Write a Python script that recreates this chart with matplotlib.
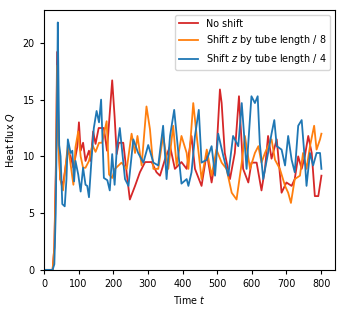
import matplotlib
matplotlib.use("Agg")
import matplotlib.pyplot as plt

t_red = [0, 25, 30, 35, 38, 42, 47, 55, 62, 69, 77, 85, 96, 101, 106, 113, 120, 130, 135, 142, 149, 158, 173, 182, 197, 204, 210, 216,
         229, 239, 248, 263, 277, 292, 311, 325, 335, 349, 364, 378, 397, 412,
         426, 436, 455, 470, 484, 498, 508, 513, 522, 537, 551, 563, 575, 590, 599, 614,
         628, 638, 647, 657, 672, 686, 700, 715, 724, 734, 744, 753, 763, 773, 782, 792, 801]
q_red = [0, 0, 2, 10, 19.2, 12, 8, 7.5, 9, 10.5, 10, 9, 10.8, 13, 10.5, 11.2, 9.6, 10.5, 9.6, 12.2, 11.1, 12.5, 12.5, 10.5, 16.7, 13.5, 10.2, 11.2,
         11.2, 8.5, 6.2, 7.4, 8.6, 9.5, 9.5, 8.6, 8.3, 9.7, 10.9, 8.9, 9.5, 8.9,
         11.8, 8.9, 7.4, 10.3, 7.7, 10.3, 15.9, 14.7, 10.3, 8.0, 10.3, 15.3, 8.9, 7.7, 9.45, 9.45,
         7.0, 8.9, 11.8, 9.8, 11.5, 6.8, 7.7, 7.4, 8.0, 10.0, 8.9, 10.0, 11.8, 10.3, 6.5, 6.5, 8.3]

t_orange = [0, 25, 30, 35, 38, 42, 47, 55, 62, 69, 77, 85, 91, 99, 106, 113, 120, 130, 140, 149, 159, 168, 181, 188, 197, 205,
            224, 239, 253, 263, 270, 282, 296, 306, 316, 330, 344, 359, 373, 383, 397, 412,
            417, 431, 441, 455, 470, 484, 498, 513, 527, 542, 556, 571, 580, 595, 609,
            619, 628, 638, 647, 657, 667, 681, 696, 705, 713, 724, 739, 748, 758, 768, 780, 787, 797, 801]
q_orange = [0, 0, 2, 9, 18, 11, 8, 7, 9, 11, 9.3, 7.5, 10.8, 12.2, 10, 9, 9, 9.6, 11, 10.4, 11.2, 11.2, 13.1, 8.4, 8.1, 8.9,
            9.45, 8.9, 12.0, 10.3, 11.8, 9.2, 14.4, 12.4, 8.9, 8.9, 11.8, 8.9, 12.7, 9.2, 11.8, 10.3,
            8.9, 14.7, 11.8, 8.0, 10.6, 8.3, 10.6, 9.45, 8.9, 6.8, 6.2, 9.45, 11.8, 8.9, 10.3,
            10.9, 9.45, 10.3, 10.9, 11.5, 9.7, 8.9, 7.4, 6.8, 5.9, 8.0, 8.3, 10.3, 8.9, 10.9, 12.7, 10.6, 11.5, 12.0]

t_blue = [0, 25, 30, 34, 38, 40, 44, 48, 53, 60, 65, 69, 77, 82, 87, 91, 99, 106, 113, 120, 125, 130, 137, 144, 152, 159, 165, 173, 183, 190, 197, 204, 210,
          219, 234, 244, 258, 272, 287, 301, 316, 330, 344, 354, 364, 376, 388, 397, 412,
          417, 426, 436, 447, 455, 470, 484, 494, 503, 518, 532, 546, 561, 571, 585, 599, 609, 617,
          623, 633, 647, 657, 665, 672, 686, 696, 705, 715, 724, 734, 744, 753, 758, 768, 777, 787, 797, 801]
q_blue = [0, 0, 0.5, 5, 15, 21.8, 11, 10, 5.8, 5.6, 8, 11.5, 10.3, 10.5, 7.8, 9.6, 8.4, 6.9, 9, 7.5, 7.4, 6.4, 9.6, 12.5, 14, 13, 15, 8.1, 7.9, 7, 10.2, 7.5, 10.5,
          12.5, 8.0, 7.4, 11.5, 10.3, 9.45, 11.0, 9.45, 9.2, 12.7, 8.0, 11.8, 14.1, 10.3, 7.6, 8.0,
          7.4, 8.6, 11.8, 14.1, 9.45, 9.7, 10.9, 8.3, 12.0, 10.0, 8.3, 11.8, 10.9, 14.7, 8.9, 15.3, 14.7, 15.3,
          11.2, 8.0, 10.3, 12.0, 13.2, 10.9, 10.6, 9.2, 11.8, 9.7, 8.6, 12.7, 13.2, 9.7, 7.4, 10.3, 9.2, 10.3, 10.3, 8.9]

labels = ["No shift", "Shift $z$ by tube length / 8", "Shift $z$ by tube length / 4"]
colors = ["#d62728", "#ff7f0e", "#1f77b4"]

plt.rcParams['font.size'] = 6.9
fig = plt.figure(figsize=(3.46, 3.12), dpi=100)
ax = fig.add_axes([0.127, 0.135, 0.841, 0.833])
for tt, qq, lab, c in zip([t_red, t_orange, t_blue], [q_red, q_orange, q_blue], labels, colors):
    ax.plot(tt, qq, color=c, lw=1.3, label=lab)
ax.set_xlim(0, 840)
ax.set_ylim(0, 22.9)
ax.set_xticks([0, 100, 200, 300, 400, 500, 600, 700, 800])
ax.set_yticks([0, 5, 10, 15, 20])
ax.set_xlabel("Time $t$")
ax.set_ylabel("Heat flux $Q$")
ax.tick_params(length=3, width=0.8)
ax.legend(loc="upper right")
fig.savefig("out.png", dpi=100)
